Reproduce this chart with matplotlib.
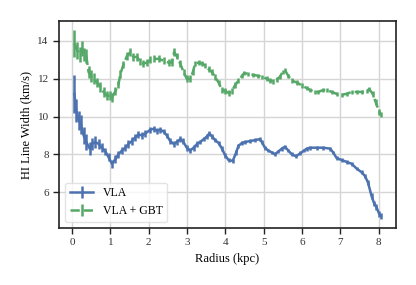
import numpy as np
import matplotlib
matplotlib.use("Agg")
import matplotlib.pyplot as plt

# VLA profile
r_vla = [0.06, 0.11, 0.17, 0.23, 0.30, 0.37, 0.46, 0.52, 0.61, 0.69, 0.78, 0.87, 0.95,
         1.04, 1.13, 1.21, 1.30, 1.39, 1.47, 1.56, 1.65, 1.73, 1.82, 1.91, 2.04, 2.13,
         2.21, 2.30, 2.39, 2.47, 2.56, 2.65, 2.73, 2.82, 2.89, 2.99, 3.08, 3.17, 3.26,
         3.34, 3.43, 3.52, 3.58, 3.65, 3.73, 3.82, 3.91, 3.99, 4.08, 4.19, 4.28, 4.34,
         4.43, 4.51, 4.64, 4.77, 4.89, 4.95, 5.03, 5.12, 5.21, 5.29, 5.38, 5.47, 5.55,
         5.64, 5.73, 5.84, 5.95, 6.05, 6.12, 6.21, 6.38, 6.55, 6.73, 6.81, 6.90, 7.03,
         7.16, 7.29, 7.42, 7.55, 7.64, 7.72, 7.81, 7.88, 7.94, 8.01, 8.05]
w_vla = [11.2, 10.3, 9.8, 9.6, 9.0, 8.65, 8.3, 8.55, 8.65, 8.55, 8.35, 8.15, 7.85,
         7.5, 7.75, 8.0, 8.2, 8.35, 8.55, 8.7, 8.9, 9.05, 9.0, 9.1, 9.3, 9.35,
         9.25, 9.3, 9.2, 9.0, 8.7, 8.55, 8.65, 8.8, 8.7, 8.35, 8.2, 8.35, 8.55,
         8.65, 8.8, 8.95, 9.1, 8.95, 8.75, 8.6, 8.3, 7.95, 7.7, 7.65, 8.1, 8.45,
         8.6, 8.65, 8.7, 8.75, 8.8, 8.65, 8.35, 8.2, 8.1, 8.0, 8.15, 8.3, 8.4,
         8.2, 8.0, 7.9, 8.05, 8.2, 8.3, 8.35, 8.35, 8.35, 8.3, 8.1, 7.8, 7.7,
         7.6, 7.5, 7.25, 7.05, 6.85, 6.5, 5.8, 5.4, 5.2, 4.85, 4.75]
e_vla = [1.0, 0.6, 0.5, 0.5, 0.45, 0.4, 0.35, 0.3, 0.3, 0.25, 0.25, 0.2, 0.2,
         0.2, 0.2, 0.2, 0.2, 0.2, 0.2, 0.2, 0.2, 0.2, 0.2, 0.2, 0.15, 0.15,
         0.15, 0.15, 0.15, 0.15, 0.15, 0.15, 0.15, 0.15, 0.15, 0.15, 0.15, 0.15, 0.15,
         0.12, 0.12, 0.12, 0.12, 0.12, 0.12, 0.12, 0.12, 0.12, 0.12, 0.12, 0.12, 0.12,
         0.1, 0.1, 0.1, 0.1, 0.1, 0.1, 0.1, 0.1, 0.1, 0.1, 0.1, 0.1, 0.1,
         0.1, 0.1, 0.1, 0.1, 0.1, 0.1, 0.1, 0.1, 0.1, 0.1, 0.1, 0.1, 0.1,
         0.1, 0.1, 0.1, 0.1, 0.1, 0.12, 0.15, 0.15, 0.15, 0.15, 0.15]

# VLA + GBT profile
r_comb = [0.06, 0.13, 0.20, 0.26, 0.32, 0.37, 0.43, 0.49, 0.56, 0.65, 0.74, 0.82, 0.91,
          1.00, 1.04, 1.13, 1.21, 1.26, 1.34, 1.43, 1.52, 1.60, 1.69, 1.78, 1.86, 1.95,
          2.04, 2.13, 2.26, 2.39, 2.52, 2.60, 2.66, 2.73, 2.82, 2.91, 2.99, 3.08, 3.15,
          3.21, 3.30, 3.39, 3.47, 3.56, 3.65, 3.73, 3.82, 3.91, 3.99, 4.08, 4.17, 4.25,
          4.34, 4.43, 4.49, 4.60, 4.73, 4.86, 4.95, 5.08, 5.16, 5.25, 5.34, 5.42, 5.49,
          5.55, 5.64, 5.73, 5.86, 5.99, 6.12, 6.21, 6.34, 6.42, 6.55, 6.64, 6.77, 6.90,
          7.03, 7.16, 7.29, 7.42, 7.55, 7.68, 7.75, 7.84, 7.92, 8.01, 8.05]
w_comb = [13.85, 13.5, 13.3, 13.6, 13.3, 13.2, 12.35, 12.15, 12.0, 11.8, 11.55, 11.3, 11.1,
          11.1, 11.0, 11.35, 11.7, 12.25, 12.75, 13.2, 13.4, 13.15, 13.15, 12.9, 12.8, 12.85,
          13.0, 13.05, 13.05, 12.95, 12.85, 12.85, 13.4, 13.2, 12.8, 12.35, 12.0, 12.0, 12.35,
          12.8, 12.85, 12.8, 12.7, 12.5, 12.35, 12.1, 11.8, 11.4, 11.35, 11.25, 11.35, 11.65,
          11.9, 12.15, 12.3, 12.25, 12.2, 12.15, 12.1, 12.0, 11.9, 11.85, 11.95, 12.1, 12.35,
          12.45, 12.15, 11.9, 11.8, 11.65, 11.5, 11.4, 11.3, 11.3, 11.4, 11.4, 11.3, 11.2,
          11.15, 11.2, 11.3, 11.3, 11.3, 11.35, 11.45, 11.2, 10.75, 10.25, 10.1]
e_comb = [0.7, 0.45, 0.4, 0.4, 0.35, 0.35, 0.3, 0.3, 0.3, 0.25, 0.25, 0.25, 0.25,
          0.25, 0.25, 0.2, 0.2, 0.2, 0.2, 0.2, 0.2, 0.2, 0.2, 0.18, 0.18, 0.18,
          0.18, 0.18, 0.18, 0.18, 0.18, 0.18, 0.2, 0.18, 0.18, 0.18, 0.18, 0.18, 0.18,
          0.15, 0.15, 0.15, 0.15, 0.15, 0.15, 0.15, 0.15, 0.15, 0.15, 0.15, 0.15, 0.15,
          0.12, 0.12, 0.12, 0.12, 0.12, 0.12, 0.12, 0.12, 0.12, 0.12, 0.12, 0.12, 0.12,
          0.12, 0.12, 0.12, 0.12, 0.12, 0.12, 0.12, 0.12, 0.12, 0.12, 0.12, 0.12, 0.12,
          0.12, 0.12, 0.12, 0.12, 0.12, 0.12, 0.12, 0.15, 0.15, 0.15, 0.15]

plt.rcParams['font.family'] = ['Liberation Serif', 'DejaVu Serif']
plt.rcParams['font.size'] = 8

fig, ax = plt.subplots(figsize=(4.16, 2.85), dpi=100)
ax.errorbar(r_vla, w_vla, yerr=e_vla, color='#4C72B0', linestyle='-',
            linewidth=1.8, elinewidth=1.8, label='VLA')
ax.errorbar(r_comb, w_comb, yerr=e_comb, color='#55A868', linestyle='--',
            linewidth=1.8, elinewidth=1.8, label='VLA + GBT')

ax.grid(True, color='#d5d5d5', linewidth=1)
ax.set_axisbelow(True)
for s in ax.spines.values():
    s.set_color('#222222')
    s.set_linewidth(1.2)
ax.tick_params(direction='out', length=4, width=1, color='#222222',
               labelsize=8, labelcolor='#333333')
ax.set_yticks([6, 8, 10, 12, 14])
ax.set_xticks(range(9))
ax.set_xlabel("Radius (kpc)", fontsize=9)
ax.set_ylabel("HI Line Width (km/s)", fontsize=9)
leg = ax.legend(loc='lower left', fontsize=8.5, frameon=True, fancybox=True)
leg.get_frame().set_edgecolor('#dddddd')

plt.subplots_adjust(left=0.142, bottom=0.2, right=0.952, top=0.926)
plt.savefig("out.png", dpi=100)
